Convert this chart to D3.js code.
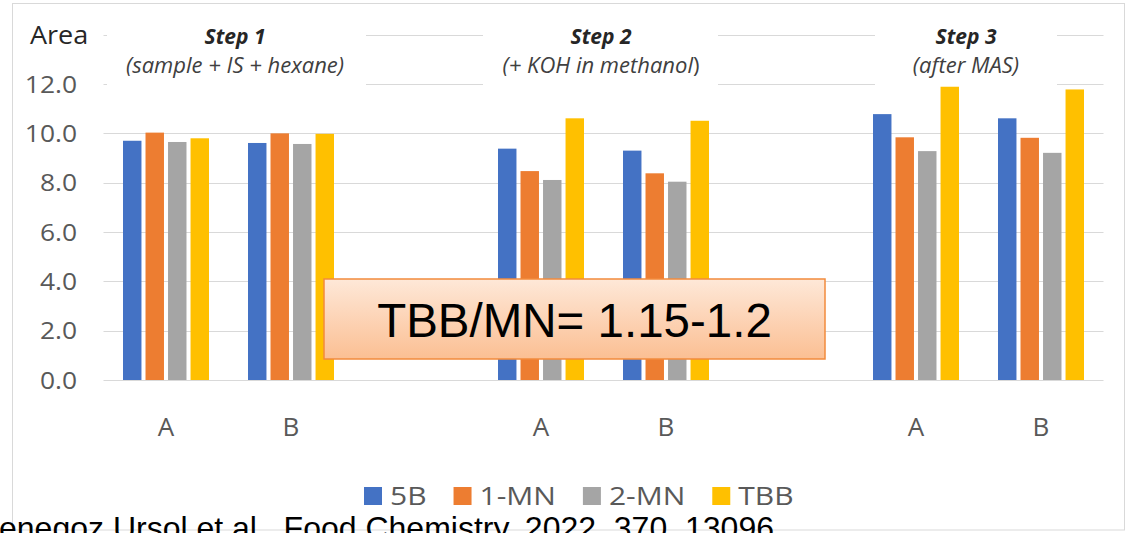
<!DOCTYPE html>
<html>
<head>
<meta charset="utf-8">
<script src="https://cdn.jsdelivr.net/npm/d3@7"></script>
<style>
  html, body { margin: 0; padding: 0; background: #ffffff; }
  svg { display: block; }
</style>
</head>
<body>
<svg id="chart" width="1127" height="533"></svg>
<script>
// Peak areas of the four compounds through the three sample-preparation steps
const steps = ["Step 1", "Step 2", "Step 3"];
const stepNotes = ["(sample + IS + hexane)", "(+ KOH in methanol", "(after MAS)"];
const samples = ["A", "B"];
const seriesNames = ["5B", "1-MN", "2-MN", "TBB"];
const seriesColors = ["#4472C4", "#ED7D31", "#A5A5A5", "#FFC000"];

// one value per sample, in order Step1 A, Step1 B, Step2 A, Step2 B, Step3 A, Step3 B
const values5B  = [9.70, 9.61, 9.38, 9.30, 10.78, 10.61];
const values1MN = [10.03, 10.00, 8.47, 8.38, 9.84, 9.82];
const values2MN = [9.65, 9.57, 8.11, 8.04, 9.28, 9.21];
const valuesTBB = [9.80, 9.98, 10.61, 10.51, 11.89, 11.78];

const yTicks = [0, 2, 4, 6, 8, 10, 12];
const yTickLabels = ["0.0", "2.0", "4.0", "6.0", "8.0", "10.0", "12.0"];
const yTitle = "Area";
const ratioNote = "TBB/MN= 1.15-1.2";
const citation = "enegoz Ursol et al., Food Chemistry, 2022, 370, 13096";

const seriesValues = [values5B, values1MN, values2MN, valuesTBB];

// category slots: each step has A and B followed by an empty slot
const slots = [];
steps.forEach((s, i) => {
  samples.forEach(smp => slots.push({ key: s + "|" + smp, step: i, sample: smp }));
  if (i < steps.length - 1) slots.push({ key: "gap" + i, step: i, sample: null });
});
const dataSlots = slots.filter(d => d.sample !== null);

const svg = d3.select("#chart");
const FONT = "'Open Sans', sans-serif";

// text with a slight horizontal widening, like the chart's wide UI font
function wideText(g, x, y, sx, anchor) {
  return g.append("text")
    .attr("transform", `translate(${x},${y}) scale(${sx},1)`)
    .attr("text-anchor", anchor || "start");
}

// outer frame
svg.append("rect")
  .attr("x", 12.5).attr("y", 3.5)
  .attr("width", 1112).attr("height", 526.5)
  .attr("fill", "#ffffff").attr("stroke", "#d9d9d9").attr("stroke-width", 1);

const plotLeft = 103.5, plotRight = 1103.5;
const x = d3.scaleBand().domain(slots.map(d => d.key)).range([plotLeft, plotRight]).padding(0);
const inner = d3.scaleBand().domain(seriesNames)
  .range([x.bandwidth() * 0.156, x.bandwidth() * 0.844]).paddingInner(0.18);
const y = d3.scaleLinear().domain([0, 14]).range([380, 34.7]);

// gridlines (including the top one at 14)
svg.append("g").selectAll("line").data(yTicks.concat([14])).join("line")
  .attr("x1", plotLeft).attr("x2", plotRight)
  .attr("y1", d => Math.round(y(d)) + 0.5).attr("y2", d => Math.round(y(d)) + 0.5)
  .attr("stroke", "#d9d9d9").attr("stroke-width", 1.2);

// y tick labels
const tickG = svg.append("g");
yTicks.forEach((d, i) => {
  wideText(tickG, 77, y(d), 1.1, "end")
    .attr("dy", "0.36em")
    .attr("font-family", FONT)
    .attr("font-size", 24)
    .attr("fill", "#595959")
    .text(yTickLabels[i]);
});

wideText(svg, 30, y(14), 1.08)
  .attr("dy", "0.36em")
  .attr("font-family", FONT)
  .attr("font-size", 25).attr("fill", "#262626")
  .text(yTitle);

// step headers on white panels that mask the upper gridlines
const stepPanels = [[107, 366], [483, 718], [875, 1057]];
const stepLabelX = [235, 601, 966];
const head = svg.append("g");
steps.forEach((s, i) => {
  head.append("rect")
    .attr("x", stepPanels[i][0]).attr("y", 18)
    .attr("width", stepPanels[i][1] - stepPanels[i][0]).attr("height", 74)
    .attr("fill", "#ffffff");
  head.append("text")
    .attr("x", stepLabelX[i]).attr("y", 44)
    .attr("text-anchor", "middle")
    .attr("font-family", FONT)
    .attr("font-size", 21).attr("font-weight", "bold").attr("font-style", "italic")
    .attr("fill", "#262626")
    .text(s);
  const note = head.append("text")
    .attr("x", stepLabelX[i]).attr("y", 73)
    .attr("text-anchor", "middle")
    .attr("font-family", FONT)
    .attr("font-size", 22)
    .attr("fill", "#404040");
  note.append("tspan").attr("font-style", "italic").text(stepNotes[i]);
  if (i === 1) note.append("tspan").text(")");
});

// bars
const barsG = svg.append("g");
seriesNames.forEach((name, si) => {
  barsG.append("g").selectAll("rect").data(dataSlots).join("rect")
    .attr("x", d => x(d.key) + inner(name))
    .attr("width", inner.bandwidth())
    .attr("y", (d, i) => y(seriesValues[si][i]))
    .attr("height", (d, i) => y(0) - y(seriesValues[si][i]))
    .attr("fill", seriesColors[si]);
});

// category labels
svg.append("g").selectAll("text").data(dataSlots).join("text")
  .attr("x", d => x(d.key) + x.bandwidth() / 2)
  .attr("y", 436)
  .attr("text-anchor", "middle")
  .attr("font-family", FONT)
  .attr("font-size", 26)
  .attr("fill", "#595959")
  .text(d => d.sample);

// legend
const legend = svg.append("g");
let lx = 364;
seriesNames.forEach((name, i) => {
  legend.append("rect")
    .attr("x", lx).attr("y", 487).attr("width", 18).attr("height", 18)
    .attr("fill", seriesColors[i]);
  const t = wideText(legend, lx + 26, 505, 1.2)
    .attr("font-family", FONT)
    .attr("font-size", 25)
    .attr("fill", "#595959")
    .text(name);
  lx += 26 + t.node().getComputedTextLength() * 1.2 + 27;
});

// ratio callout
const defs = svg.append("defs");
const grad = defs.append("linearGradient").attr("id", "calloutFill")
  .attr("x1", 0).attr("y1", 0).attr("x2", 0).attr("y2", 1);
grad.append("stop").attr("offset", "0%").attr("stop-color", "#FEE8D8");
grad.append("stop").attr("offset", "100%").attr("stop-color", "#FBBF93");

svg.append("rect")
  .attr("x", 324).attr("y", 279).attr("width", 501).attr("height", 80)
  .attr("fill", "url(#calloutFill)")
  .attr("stroke", "#F28B3C").attr("stroke-width", 1.5);
svg.append("text")
  .attr("x", 574.5).attr("y", 337)
  .attr("text-anchor", "middle")
  .attr("font-family", "'Liberation Sans', Arial, sans-serif")
  .attr("font-size", 47.5)
  .attr("fill", "#000000")
  .text(ratioNote);

// source line
svg.append("text")
  .attr("x", -1).attr("y", 538.5)
  .attr("font-family", "'Liberation Sans', Arial, sans-serif")
  .attr("font-size", 32)
  .attr("fill", "#000000")
  .text(citation);
</script>
</body>
</html>
